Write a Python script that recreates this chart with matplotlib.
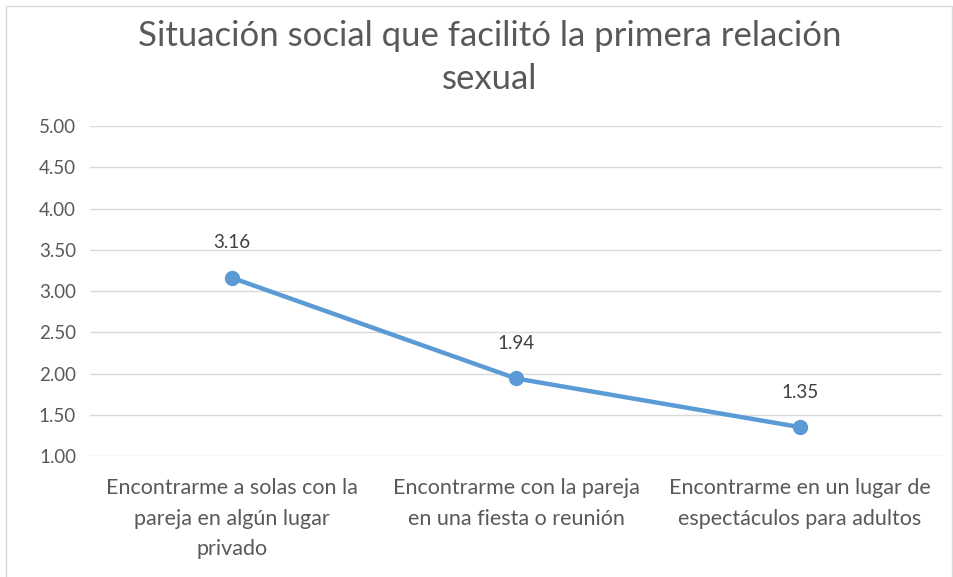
import matplotlib.pyplot as plt
from matplotlib.patches import Rectangle

plt.rcParams['font.family'] = ['Lato', 'DejaVu Sans']

categories = ['Encontrarme a solas con la\npareja en algún lugar\nprivado',
              'Encontrarme con la pareja\nen una fiesta o reunión',
              'Encontrarme en un lugar de\nespectáculos para adultos']
values = [3.16, 1.94, 1.35]
yticks = [1.0, 1.5, 2.0, 2.5, 3.0, 3.5, 4.0, 4.5, 5.0]

blue = '#5B9BD5'
grey = '#595959'

fig = plt.figure(figsize=(9.54, 5.77), dpi=100)
fig.patches.append(Rectangle((0.006, -0.01), 0.992, 1.0, transform=fig.transFigure,
                             fill=False, edgecolor='#D9D9D9', linewidth=1))

ax = fig.add_axes([0.0943, 0.2097, 0.8931, 0.5719])
x = list(range(len(values)))
ax.plot(x, values, color=blue, linewidth=3.2, marker='o', markersize=10, zorder=3)
for xi, v in zip(x, values):
    ax.annotate(f'{v:.2f}', (xi, v), xytext=(0, 19), textcoords='offset points',
                ha='center', va='bottom', fontsize=13.5, color='#404040')

ax.set_xlim(-0.5, 2.5)
ax.set_ylim(1.0, 5.0)
ax.set_yticks(yticks)
ax.set_yticklabels([f'{t:.2f}' for t in yticks], fontsize=13.5)
ax.set_xticks(x)
ax.set_xticklabels(categories, fontsize=15.5, linespacing=1.65)
ax.grid(axis='y', color='#D9D9D9', linewidth=1)
ax.set_axisbelow(True)
for s in ax.spines.values():
    s.set_visible(False)
ax.tick_params(length=0, colors=grey)
ax.tick_params(axis='y', pad=10)
ax.tick_params(axis='x', pad=16)

fig.text(0.513, 0.966, 'Situación social que facilitó la primera relación\nsexual',
         ha='center', va='top', fontsize=25, color=grey, linespacing=1.45)

fig.savefig('out.png', dpi=100)
